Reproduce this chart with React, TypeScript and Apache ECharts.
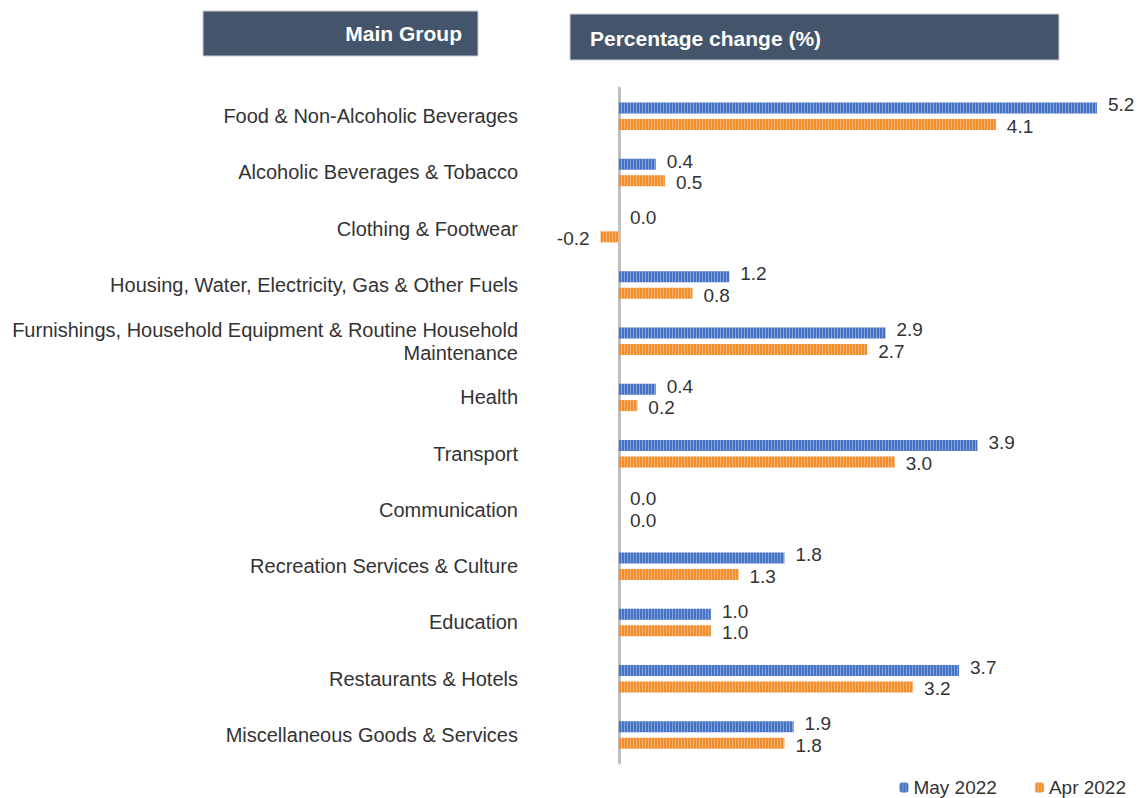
import React, { useEffect, useRef } from "react";
import * as echarts from "echarts";

const categories = [
  "Food & Non-Alcoholic Beverages",
  "Alcoholic Beverages & Tobacco",
  "Clothing & Footwear",
  "Housing, Water, Electricity, Gas & Other Fuels",
  "Furnishings, Household Equipment & Routine Household\nMaintenance",
  "Health",
  "Transport",
  "Communication",
  "Recreation Services & Culture",
  "Education",
  "Restaurants & Hotels",
  "Miscellaneous Goods & Services",
];
const may2022 = [5.2, 0.4, 0.0, 1.2, 2.9, 0.4, 3.9, 0.0, 1.8, 1.0, 3.7, 1.9];
const apr2022 = [4.1, 0.5, -0.2, 0.8, 2.7, 0.2, 3.0, 0.0, 1.3, 1.0, 3.2, 1.8];
const seriesNames = ["May 2022", "Apr 2022"];
const headerLeft = "Main Group";
const headerRight = "Percentage change (%)";

const FONT = "'Liberation Sans', Arial, sans-serif";

export default function App() {
  const ref = useRef<HTMLDivElement>(null);
  useEffect(() => {
    document.body.style.margin = "0";
    const chart = echarts.init(ref.current!, null, { renderer: "svg" });
    const decal = {
      symbol: "rect",
      symbolSize: 1,
      dashArrayX: [1, 2],
      dashArrayY: [20, 0],
      rotation: 0,
      color: "rgba(255,255,255,0.35)",
    };
    const mkData = (arr: number[]) =>
      arr.map((v) => ({
        value: v,
        label: v < 0 ? { position: "left" } : undefined,
      }));
    const valueLabel = (dy: number) => ({
      show: true,
      position: "right",
      distance: 11,
      offset: [0, dy],
      fontSize: 19,
      color: "#333333",
      fontFamily: FONT,
      formatter: (p: any) => Number(p.value).toFixed(1),
    });
    chart.setOption({
      animation: false,
      textStyle: { fontFamily: FONT },
      grid: { left: 573, right: 15.5, top: 88, bottom: 35, containLabel: false },
      xAxis: {
        type: "value",
        min: -0.5,
        max: 5.5,
        show: false,
      },
      yAxis: {
        type: "category",
        data: categories,
        inverse: true,
        axisLine: { show: true, lineStyle: { color: "#c0c0c0", width: 3 } },
        axisTick: { show: false },
        axisLabel: {
          margin: 55,
          color: "#333333",
          fontSize: 20,
          fontFamily: FONT,
          align: "right",
          lineHeight: 23,
        },
      },
      legend: {
        right: 14,
        top: 778,
        padding: 0,
        itemWidth: 9,
        itemHeight: 10,
        itemGap: 38,
        textStyle: { fontSize: 19, lineHeight: 19, color: "#333333", fontFamily: FONT },
        data: seriesNames,
      },
      graphic: [
        {
          type: "rect",
          shape: { x: 203, y: 11, width: 275, height: 45 },
          style: { fill: "#44546A", stroke: "#c8ccd2", lineWidth: 1 },
        },
        {
          type: "text",
          x: 462,
          y: 33,
          style: {
            text: headerLeft,
            fill: "#ffffff",
            font: `bold 21px ${FONT}`,
            textAlign: "right",
            textVerticalAlign: "middle",
          },
        },
        {
          type: "rect",
          shape: { x: 570, y: 14, width: 489, height: 46 },
          style: { fill: "#44546A", stroke: "#c8ccd2", lineWidth: 1 },
        },
        {
          type: "text",
          x: 590,
          y: 38,
          style: {
            text: headerRight,
            fill: "#ffffff",
            font: `bold 21px ${FONT}`,
            textAlign: "left",
            textVerticalAlign: "middle",
          },
        },
      ],
      series: [
        {
          name: seriesNames[0],
          type: "bar",
          data: mkData(may2022),
          barWidth: 11,
          barGap: "50%",
          itemStyle: { color: "#4472C4", decal },
          label: valueLabel(-3),
        },
        {
          name: seriesNames[1],
          type: "bar",
          data: mkData(apr2022),
          barWidth: 11,
          barGap: "50%",
          itemStyle: { color: "#F28E2B", decal },
          label: valueLabel(2),
        },
      ],
    });
    return () => chart.dispose();
  }, []);
  return <div ref={ref} style={{ width: 1140, height: 798 }} />;
}
